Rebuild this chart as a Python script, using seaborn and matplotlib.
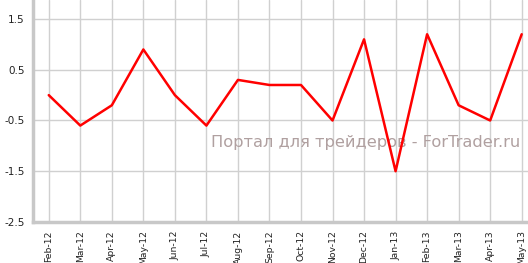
import matplotlib
matplotlib.use("Agg")
import matplotlib.pyplot as plt
import seaborn as sns
import pandas as pd

months = ["Feb-12", "Mar-12", "Apr-12", "May-12", "Jun-12", "Jul-12", "Aug-12", "Sep-12",
          "Oct-12", "Nov-12", "Dec-12", "Jan-13", "Feb-13", "Mar-13", "Apr-13", "May-13"]
values = [0.0, -0.6, -0.2, 0.9, 0.0, -0.6, 0.3, 0.2, 0.2, -0.5, 1.1, -1.5, 1.2, -0.2, -0.5, 1.2]
yticks = [-2.5, -1.5, -0.5, 0.5, 1.5]
watermark = "Портал для трейдеров - ForTrader.ru"

sns.set_theme(style="white")
plt.rcParams['font.family'] = ['DejaVu Sans']

df = pd.DataFrame({"month": months, "value": values})
fig = plt.figure(figsize=(5.28, 2.63), dpi=100)
ax = fig.add_axes([0.0625, 0.156, 0.9375, 0.844])
ax.text(0.985, 0.356, watermark, transform=ax.transAxes, ha="right", va="center",
        fontsize=11.7, color="#b0a0a0", zorder=1)
sns.lineplot(data=df, x="month", y="value", color="#ff0000", linewidth=1.8, ax=ax, sort=False, zorder=3)

ax.set_xlim(-0.5, len(months) - 0.8)
ax.set_ylim(-2.5, 1.875)
ax.set_yticks(yticks)
ax.set_yticklabels([f"{v:.1f}" for v in yticks], fontsize=7.5, color="#222222")
ax.set_xticks(range(len(months)))
ax.set_xticklabels(months, rotation=90, fontsize=6.7, color="#222222")
ax.grid(True, color="#d0d0d0", linewidth=1.0)
ax.set_axisbelow(True)
ax.set_xlabel("")
ax.set_ylabel("")
for s in ["top", "right"]:
    ax.spines[s].set_visible(False)
for s in ["left", "bottom"]:
    ax.spines[s].set_color("#c8c8c8")
    ax.spines[s].set_linewidth(2.5)
ax.tick_params(axis="both", which="both", length=4, width=1, color="#c8c8c8", pad=2)

fig.savefig("out.png", dpi=100)
